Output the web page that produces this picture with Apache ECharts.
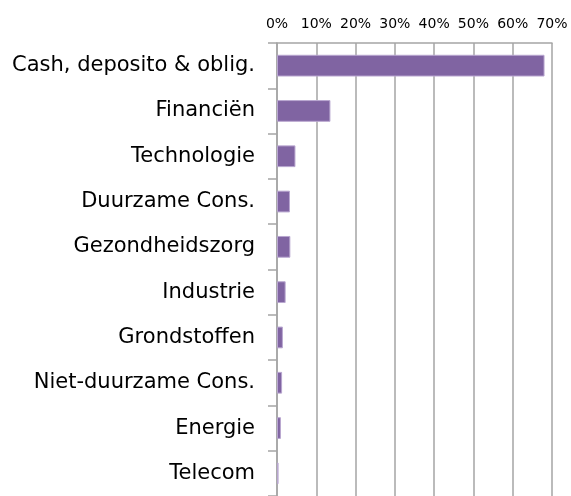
<!DOCTYPE html>
<html>
<head>
<meta charset="utf-8">
<script src="https://cdn.jsdelivr.net/npm/echarts@6/dist/echarts.min.js"></script>
<style>
  html, body { margin: 0; padding: 0; background: #fff; }
  #chart { width: 571px; height: 496px; }
</style>
</head>
<body>
<div id="chart"></div>
<script>
  const sectors = [
    "Cash, deposito & oblig.",
    "Financiën",
    "Technologie",
    "Duurzame Cons.",
    "Gezondheidszorg",
    "Industrie",
    "Grondstoffen",
    "Niet-duurzame Cons.",
    "Energie",
    "Telecom",
  ];
  const weights = [68.1, 13.6, 4.7, 3.3, 3.4, 2.2, 1.5, 1.3, 1.0, 0.4];
  const tickStep = 10;
  const tickMax = 70;

  const gray = "#a5a5a5";
  const chart = echarts.init(document.getElementById("chart"));

  chart.setOption({
    animation: false,
    grid: { left: 277, right: 19, top: 43, bottom: -5, containLabel: false },
    xAxis: {
      type: "value",
      position: "top",
      min: 0,
      max: tickMax,
      interval: tickStep,
      axisLine: { show: true, lineStyle: { color: gray, width: 1.5 } },
      axisTick: { show: false },
      splitLine: { show: true, lineStyle: { color: gray, width: 1.5 } },
      axisLabel: {
        formatter: v => v + "%",
        color: "#000",
        fontFamily: "DejaVu Sans",
        fontSize: 14,
        margin: 12,
      },
    },
    yAxis: {
      type: "category",
      inverse: true,
      data: sectors,
      axisLine: { show: true, lineStyle: { color: gray, width: 1.5 } },
      axisTick: { show: true, inside: false, length: 9, lineStyle: { color: gray, width: 1.5 } },
      axisLabel: {
        color: "#000",
        fontFamily: "DejaVu Sans",
        fontSize: 21,
        margin: 22,
      },
    },
    series: [{
      type: "bar",
      data: weights,
      barCategoryGap: "52%",
      itemStyle: { color: "#8064a2", borderColor: "#b9a7d0", borderWidth: 1 },
    }],
  });
</script>
</body>
</html>
